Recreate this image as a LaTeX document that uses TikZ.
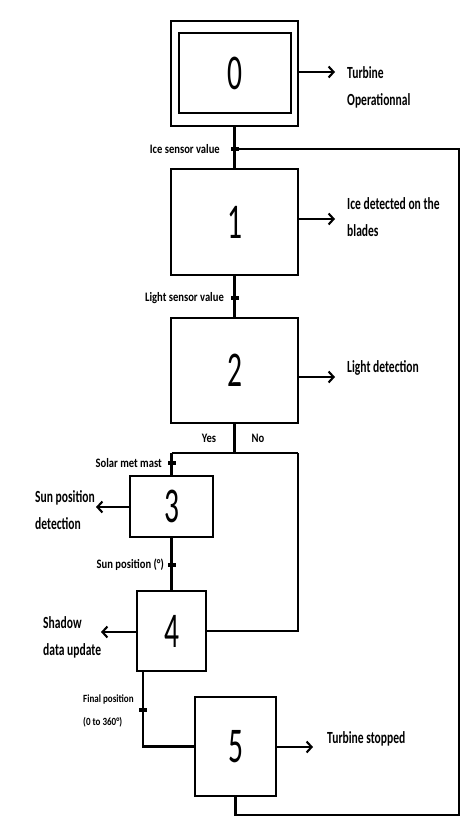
\documentclass[tikz,border=0pt]{standalone}
\usepackage{fontspec}
\setmainfont{Carlito}
\newfontfamily\lblfont{Carlito}[FakeStretch=0.68]
\newfontfamily\smlfont{Carlito}[FakeStretch=0.82]
\newfontfamily\numfont{Carlito}[FakeStretch=0.59]
\usetikzlibrary{arrows.meta}
\begin{document}
\begin{tikzpicture}[x=1pt,y=-1pt,
  lbl/.style={font=\lblfont\bfseries\fontsize{17}{27}\selectfont, inner sep=0, align=left, anchor=west},
  sml/.style={font=\smlfont\bfseries\fontsize{12.9}{15}\selectfont, inner sep=0},
  fin/.style={font=\smlfont\bfseries\fontsize{11}{23}\selectfont, inner sep=0, align=left, anchor=west},
  num/.style={font=\numfont\fontsize{50}{50}\selectfont},
  stepbox/.style={draw, line width=2.1pt, inner sep=0},
  wire/.style={line width=2.1pt},
  arr/.style={wire, -{Straight Barb[length=5pt,width=11pt]}},
  tickmark/.style={fill, minimum width=8pt, minimum height=4pt, inner sep=0}]
\useasboundingbox (0,0) rectangle (474,835);
% steps
\node[stepbox, minimum width=127pt, minimum height=105pt] (b0) at (234.5,73.5) {};
\node[stepbox, num, minimum width=112pt, minimum height=80pt] (b0in) at (235,73) {0};
\node[stepbox, num, minimum width=127pt, minimum height=106pt] (b1) at (234.5,222) {1};
\node[stepbox, num, minimum width=127pt, minimum height=105pt] (b2) at (234.5,370.5) {2};
\node[stepbox, num, minimum width=83pt, minimum height=61pt] (b3) at (171.5,506.5) {3};
\node[stepbox, num, minimum width=69pt, minimum height=80pt] (b4) at (171.5,631) {4};
\node[stepbox, num, minimum width=81pt, minimum height=99pt] (b5) at (235.5,746.5) {5};
% coordinates
\coordinate (j1) at (234.5,149);
\coordinate (c1) at (459,815);
\coordinate (t2) at (234.5,298);
\coordinate (j2) at (234.5,453);
\coordinate (j3) at (171.5,453);
\coordinate (j4) at (298,453);
\coordinate (t3) at (171.5,463);
\coordinate (t4) at (171.5,565);
\coordinate (j5) at (143,700);
\coordinate (t5) at (143,710);
\coordinate (e0) at (335,72);
\coordinate (e1) at (335,219);
\coordinate (e2) at (335,377);
\coordinate (e3) at (96,507);
\coordinate (e4) at (101,632);
\coordinate (e5) at (313,747);
% connectors
\draw[wire] (b0) -- (b1);
\draw[wire] (b1) -- (b2);
\draw[wire] (b2.south) -- (j2);
\draw[wire] (j3) -- (j4);
\draw[wire] (j3) -- (b3.north);
\draw[wire] (j4) |- (b4.east);
\draw[wire] (b3) -- (b4);
\draw[wire] (b4.south -| j5) |- (b5.west);
\draw[wire] (b5.south) |- (c1) |- (j1);
% actions
\draw[arr] (b0.east |- e0) -- (e0);
\draw[arr] (b1.east |- e1) -- (e1);
\draw[arr] (b2.east |- e2) -- (e2);
\draw[arr] (b3.west |- e3) -- (e3);
\draw[arr] (b4.west |- e4) -- (e4);
\draw[arr] (b5.east |- e5) -- (e5);
% transitions
\node[tickmark] (k1) at (j1) {};
\node[tickmark] (k2) at (t2) {};
\node[tickmark] (k3) at (t3) {};
\node[tickmark] (k4) at (t4) {};
\node[tickmark] (k5) at (t5) {};
% labels
\node[lbl] (l0) at (347,87) {Turbine\\Operationnal};
\node[lbl] (l1) at (347,217) {Ice detected on the\\blades};
\node[lbl] (l2) at (347,368) {Light detection};
\node[lbl] (l3) at (35,510) {Sun position\\detection};
\node[lbl] (l4) at (43,637) {Shadow\\data update};
\node[lbl] (l5) at (327,739) {Turbine stopped};
\node[sml, anchor=east] (s1) at (220,149) {Ice sensor value};
\node[sml, anchor=east] (s2) at (224,298) {Light sensor value};
\node[sml, anchor=east] (s3) at (162,463) {Solar met mast};
\node[sml, anchor=east] (s4) at (164,565) {Sun position (°)};
\node[sml] (yes) at (209,438) {Yes};
\node[sml] (no) at (258,438) {No};
\node[fin] (s5) at (83,711) {Final position\\(0 to 360°)};
\end{tikzpicture}
\end{document}
